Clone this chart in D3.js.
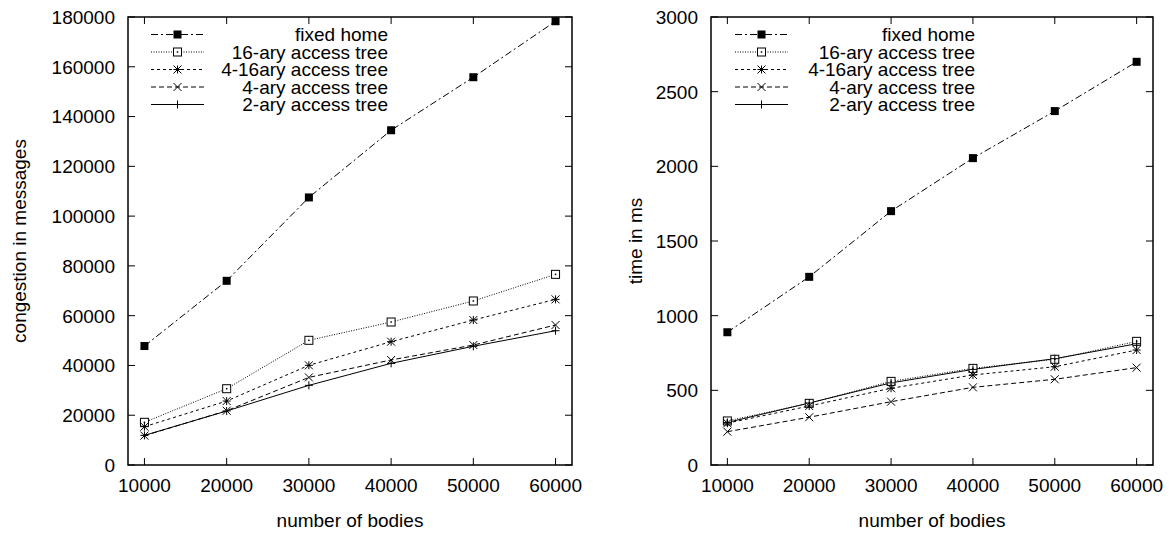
<!DOCTYPE html>
<html>
<head>
<meta charset="utf-8">
<script src="https://cdn.jsdelivr.net/npm/d3@7"></script>
<style>
  body { margin: 0; background: #fff; }
  svg { font-family: "Liberation Sans", Arial, sans-serif; }
</style>
</head>
<body>
<svg id="chart" width="1176" height="534"></svg>
<script>
// x values shared by both panels
const bodies = [10000, 20000, 30000, 40000, 50000, 60000];
const seriesNames = ["fixed home", "16-ary access tree", "4-16ary access tree", "4-ary access tree", "2-ary access tree"];

// left panel: congestion in messages
const congFixed = [47800, 74000, 107500, 134500, 155800, 178300];
const cong16 = [17150, 30650, 50100, 57450, 65900, 76600];
const cong416 = [15400, 25700, 40050, 49550, 58250, 66550];
const cong4 = [11800, 21800, 35200, 42200, 48200, 56250];
const cong2 = [11900, 21700, 32000, 40850, 47700, 53950];

// right panel: time in ms
const timeFixed = [889, 1260, 1700, 2055, 2370, 2700];
const time16 = [295, 413, 560, 647, 708, 828];
const time416 = [280, 395, 514, 603, 658, 770];
const time4 = [223, 320, 424, 520, 574, 652];
const time2 = [285, 415, 550, 640, 712, 812];

const xTicks = [10000, 20000, 30000, 40000, 50000, 60000];
const congTicks = [0, 20000, 40000, 60000, 80000, 100000, 120000, 140000, 160000, 180000];
const timeTicks = [0, 500, 1000, 1500, 2000, 2500, 3000];

// line dash + marker per series
const styles = [
  { dash: "7,3,2,3", marker: "fillsquare" },
  { dash: "1,1.5", marker: "dotsquare" },
  { dash: "3,3", marker: "star" },
  { dash: "5,3", marker: "cross" },
  { dash: null, marker: "plus" }
];

const svg = d3.select("#chart");
const fs = 19;

function drawMarker(g, type, x, y) {
  const s = 4;
  if (type === "fillsquare") {
    g.append("rect").attr("x", x - s).attr("y", y - s).attr("width", 2 * s).attr("height", 2 * s).attr("fill", "#000");
  } else if (type === "dotsquare") {
    g.append("rect").attr("x", x - s).attr("y", y - s).attr("width", 2 * s).attr("height", 2 * s)
      .attr("fill", "#fff").attr("stroke", "#000").attr("stroke-width", 1);
    g.append("rect").attr("x", x - 0.75).attr("y", y - 0.75).attr("width", 1.5).attr("height", 1.5).attr("fill", "#000");
  } else {
    const p = d3.path();
    if (type === "plus" || type === "star") {
      p.moveTo(x - s, y); p.lineTo(x + s, y);
      p.moveTo(x, y - s); p.lineTo(x, y + s);
    }
    if (type === "cross" || type === "star") {
      p.moveTo(x - s, y - s); p.lineTo(x + s, y + s);
      p.moveTo(x - s, y + s); p.lineTo(x + s, y - s);
    }
    g.append("path").attr("d", p.toString()).attr("stroke", "#000").attr("stroke-width", 1).attr("fill", "none");
  }
}

function panel(opts) {
  const { left, right, top, bottom, yMax, yTicks, series, yLabel, yLabelX, legendX, legendTextX } = opts;
  const x = d3.scaleLinear().domain([8000, 62000]).range([left, right]);
  const y = d3.scaleLinear().domain([0, yMax]).range([bottom, top]);
  const g = svg.append("g");

  // ticks on all four sides (pointing inward)
  const tl = 7;
  yTicks.forEach(t => {
    g.append("line").attr("x1", left).attr("x2", left + tl).attr("y1", y(t)).attr("y2", y(t)).attr("stroke", "#000");
    g.append("line").attr("x1", right).attr("x2", right - tl).attr("y1", y(t)).attr("y2", y(t)).attr("stroke", "#000");
    g.append("text").attr("x", left - 13).attr("y", y(t)).attr("dy", "0.36em")
      .attr("text-anchor", "end").attr("font-size", fs).text(t);
  });
  xTicks.forEach(t => {
    g.append("line").attr("x1", x(t)).attr("x2", x(t)).attr("y1", bottom).attr("y2", bottom - tl).attr("stroke", "#000");
    g.append("line").attr("x1", x(t)).attr("x2", x(t)).attr("y1", top).attr("y2", top + tl).attr("stroke", "#000");
    g.append("text").attr("x", x(t)).attr("y", bottom + 27)
      .attr("text-anchor", "middle").attr("font-size", fs).text(t);
  });

  // axis titles
  g.append("text").attr("x", (left + right) / 2).attr("y", bottom + 62)
    .attr("text-anchor", "middle").attr("font-size", fs).text("number of bodies");
  g.append("text").attr("transform", `translate(${yLabelX},${(top + bottom) / 2}) rotate(-90)`)
    .attr("text-anchor", "middle").attr("font-size", fs).text(yLabel);

  // series lines + markers
  const line = d3.line().x((d, i) => x(bodies[i])).y(d => y(d));
  series.forEach((vals, k) => {
    g.append("path").attr("d", line(vals)).attr("fill", "none").attr("stroke", "#000")
      .attr("stroke-width", 1).attr("stroke-dasharray", styles[k].dash);
  });
  series.forEach((vals, k) => {
    vals.forEach((v, i) => drawMarker(g, styles[k].marker, x(bodies[i]), y(v)));
  });

  // legend
  seriesNames.forEach((name, k) => {
    const ly = top + 17.5 + k * 17.5;
    g.append("line").attr("x1", legendX).attr("x2", legendX + 53).attr("y1", ly).attr("y2", ly)
      .attr("stroke", "#000").attr("stroke-width", 1).attr("stroke-dasharray", styles[k].dash);
    drawMarker(g, styles[k].marker, legendX + 26.5, ly);
    g.append("text").attr("x", legendTextX).attr("y", ly).attr("dy", "0.36em")
      .attr("text-anchor", "end").attr("font-size", fs).text(name);
  });

  // frame
  g.append("rect").attr("x", left).attr("y", top).attr("width", right - left).attr("height", bottom - top)
    .attr("fill", "none").attr("stroke", "#000").attr("stroke-width", 1.5);
}

panel({
  left: 128, right: 572, top: 17, bottom: 465, yMax: 180000, yTicks: congTicks,
  series: [congFixed, cong16, cong416, cong4, cong2], yLabel: "congestion in messages", yLabelX: 26,
  legendX: 151, legendTextX: 388
});

panel({
  left: 711, right: 1153, top: 17, bottom: 465, yMax: 3000, yTicks: timeTicks,
  series: [timeFixed, time16, time416, time4, time2], yLabel: "time in ms", yLabelX: 642,
  legendX: 735, legendTextX: 975
});
</script>
</body>
</html>
